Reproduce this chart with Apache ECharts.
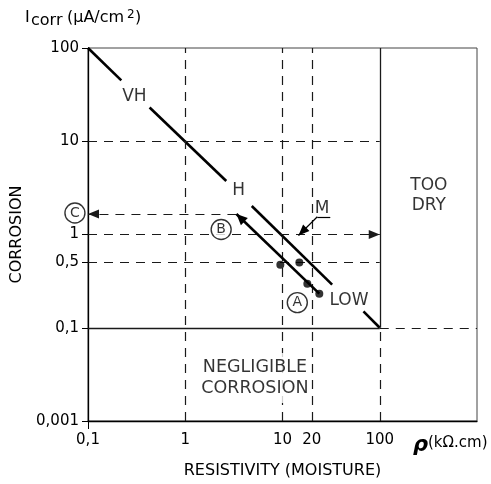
<!DOCTYPE html>
<html>
<head>
<meta charset="utf-8">
<script src="https://cdn.jsdelivr.net/npm/echarts@6/dist/echarts.min.js"></script>
<style>
  html, body { margin: 0; padding: 0; background: #fff; }
  #chart { width: 491px; height: 484px; }
</style>
</head>
<body>
<div id="chart"></div>
<script>
// Axis ticks (log-log corrosion rate vs. resistivity)
const xTicks = [0.1, 1, 10, 20, 100];
const xTickText = ['0,1', '1', '10', '20', '100'];
const yTicks = [0.01, 0.1, 0.5, 1, 10, 100];
const yTickText = ['0,001', '0,1', '0,5', '1', '10', '100'];

// Corrosion-level boundary line, drawn in pieces around its labels
const vhSegment = [[0.1, 100], [0.22, 45]];
const hSegment = [[0.43, 23], [2.64, 3.75]];
const mSegment = [[4.83, 2.02], [32.4, 0.29]];
const lowSegment = [[68, 0.15], [100, 0.1]];

// Measured points (A) and the trend line through them (B)
const measured = [[9.5, 0.475], [14.9, 0.5], [18, 0.297], [23.9, 0.232]];
const trendB = [[23.9, 0.232], [3.36, 1.66]];
const levelC = 1.66;

// Pointer from the "M" label
const mLeader = [[31, 1.55], [22.8, 1.55], [14.6, 0.975]];

// Reference lines [x1, y1, x2, y2]
const dashedGuides = [
  [1, 0.01, 1, 100],
  [10, 0.01, 10, 100],
  [20, 0.01, 20, 100],
  [100, 0.01, 100, 0.1],
  [0.1, 10, 100, 10],
  [0.1, 0.5, 100, 0.5],
  [100, 0.1, 1000, 0.1]
];
const solidGuides = [
  [100, 0.1, 100, 100],
  [0.1, 0.1, 100, 0.1]
];
const dashedArrows = [
  [0.1, 1, 100, 1],
  [3.36, levelC, 0.1, levelC]
];

// Text annotations [x, y, text]
const zoneLabels = [
  [0.30, 30, 'VH'],
  [3.53, 2.98, 'H'],
  [25.6, 1.88, 'M'],
  [48.3, 0.195, 'LOW'],
  [320, 2.64, 'TOO\nDRY']
];
const negligibleLabel = [5.2, 0.029, 'NEGLIGIBLE\nCORROSION'];
const circledLabels = [
  [14.2, 0.186, 'A'],
  [2.34, 1.13, 'B'],
  [0.0734, 1.7, 'C']
];

const FONT = 'DejaVu Sans';
const INK = '#000';
const dashStyle = { color: '#1a1a1a', width: 1.2, type: [9, 7] };
const solidStyle = { color: '#1a1a1a', width: 1.3, type: 'solid' };
// triangle head whose tip sits exactly on the line end
const ARROW = 'path://M0,0L0.01,0L0,0.01Z M0,10L4,20L-4,20Z';

function nearestLabel(value, ticks, texts) {
  let best = 0, bestD = Infinity;
  ticks.forEach((t, i) => {
    const d = Math.abs(Math.log10(value) - Math.log10(t));
    if (d < bestD) { bestD = d; best = i; }
  });
  return texts[best];
}

function seg(s, style) {
  return [
    { coord: [s[0], s[1]], symbol: 'none', lineStyle: style },
    { coord: [s[2], s[3]], symbol: 'none' }
  ];
}
function arrowSeg(s, style, width) {
  return [
    { coord: [s[0], s[1]], symbol: 'none', lineStyle: style },
    { coord: [s[2], s[3]], symbol: ARROW, symbolSize: [width || 9, 22] }
  ];
}

const guideLines = []
  .concat(dashedGuides.map(s => seg(s, dashStyle)))
  .concat(solidGuides.map(s => seg(s, solidStyle)))
  .concat(dashedArrows.map(s => arrowSeg(s, dashStyle, 9)))
  .concat([
    arrowSeg([trendB[0][0], trendB[0][1], trendB[1][0], trendB[1][1]],
             { color: '#000', width: 2.6, type: 'solid' }, 10),
    seg([mLeader[0][0], mLeader[0][1], mLeader[1][0], mLeader[1][1]],
        { color: '#000', width: 1.2, type: 'solid' }),
    arrowSeg([mLeader[1][0], mLeader[1][1], mLeader[2][0], mLeader[2][1]],
             { color: '#000', width: 1.2, type: 'solid' }, 9)
  ]);

function boundary(data) {
  return {
    type: 'line', data: data, symbol: 'none', silent: true,
    lineStyle: { color: '#000', width: 2.6 }, z: 4
  };
}

const chart = echarts.init(document.getElementById('chart'), null, { renderer: 'canvas' });

chart.setOption({
  animation: false,
  backgroundColor: '#fff',
  textStyle: { fontFamily: FONT },
  grid: {
    left: 88, right: 14, top: 48, bottom: 62,
    show: true, borderColor: '#444', borderWidth: 1, backgroundColor: 'transparent'
  },
  xAxis: {
    type: 'log', logBase: 10, min: 0.1, max: 1000,
    name: 'RESISTIVITY (MOISTURE)', nameLocation: 'middle', nameGap: 42,
    nameTextStyle: { fontFamily: FONT, fontSize: 16, color: INK },
    axisLine: { show: true, lineStyle: { color: '#000', width: 1.3 } },
    axisTick: { show: true, customValues: [0.1], length: 8, lineStyle: { color: '#000' } },
    axisLabel: {
      customValues: xTicks, margin: 12, fontSize: 15, fontFamily: FONT, color: INK,
      formatter: v => nearestLabel(v, xTicks, xTickText)
    },
    splitLine: { show: false }, minorTick: { show: false }
  },
  yAxis: {
    type: 'log', logBase: 10, min: 0.01, max: 100,
    name: 'CORROSION', nameLocation: 'middle', nameGap: 57, nameRotate: 90,
    nameTextStyle: { fontFamily: FONT, fontSize: 16, color: INK },
    axisLine: { show: true, lineStyle: { color: '#000', width: 1.3 } },
    axisTick: { show: true, customValues: yTicks, length: 6, lineStyle: { color: '#000' } },
    axisLabel: {
      customValues: yTicks, margin: 9, fontSize: 15, fontFamily: FONT, color: INK,
      formatter: v => nearestLabel(v, yTicks, yTickText)
    },
    splitLine: { show: false }, minorTick: { show: false }
  },
  series: [
    {
      name: 'guides', type: 'scatter', data: [], silent: true,
      markLine: {
        silent: true, animation: false, symbol: ['none', 'none'],
        label: { show: false }, emphasis: { disabled: true },
        data: guideLines
      }
    },
    boundary(vhSegment),
    boundary(hSegment),
    boundary(mSegment),
    boundary(lowSegment),
    {
      name: 'measured', type: 'scatter', data: measured, symbol: 'circle', symbolSize: 8,
      itemStyle: { color: '#000' }, silent: true, z: 5
    },
    {
      name: 'zones', type: 'scatter', silent: true, clip: false, symbolSize: 1,
      itemStyle: { color: 'transparent' },
      data: zoneLabels.map(d => ({ value: [d[0], d[1]], name: d[2] })),
      label: {
        show: true, position: 'inside', formatter: p => p.name,
        fontFamily: FONT, fontSize: 17, color: INK, lineHeight: 20, align: 'center'
      }, z: 6
    },
    {
      name: 'negligible', type: 'scatter', silent: true, symbolSize: 1,
      itemStyle: { color: 'transparent' },
      data: [{ value: [negligibleLabel[0], negligibleLabel[1]], name: negligibleLabel[2] }],
      label: {
        show: true, position: 'inside', formatter: p => p.name,
        fontFamily: FONT, fontSize: 17.5, color: INK, lineHeight: 21, align: 'center',
        backgroundColor: '#fff', padding: [4, 2, 4, 2]
      }, z: 6
    },
    {
      name: 'marks', type: 'scatter', silent: true, clip: false, symbol: 'circle', symbolSize: 20,
      itemStyle: { color: '#fff', borderColor: '#000', borderWidth: 1.4 },
      data: circledLabels.map(d => ({ value: [d[0], d[1]], name: d[2] })),
      label: {
        show: true, position: 'inside', formatter: p => p.name,
        fontFamily: FONT, fontSize: 14, color: INK
      }, z: 6
    }
  ],
  graphic: [
    { type: 'text', left: 25, top: 10, style: { text: 'I', font: '16px "DejaVu Sans"', fill: INK } },
    { type: 'text', left: 31, top: 13, style: { text: 'corr', font: '16px "DejaVu Sans"', fill: INK } },
    { type: 'text', left: 67, top: 10, style: { text: '(µA/cm', font: '16px "DejaVu Sans"', fill: INK } },
    { type: 'text', left: 127, top: 9, style: { text: '2', font: '12px "DejaVu Sans"', fill: INK } },
    { type: 'text', left: 135, top: 10, style: { text: ')', font: '16px "DejaVu Sans"', fill: INK } },
    { type: 'text', left: 413, top: 435, style: { text: 'ρ', font: 'italic bold 21px "DejaVu Sans"', fill: INK } },
    { type: 'text', left: 428, top: 436, style: { text: '(kΩ.cm)', font: '15px "DejaVu Sans"', fill: INK } }
  ]
});
</script>
</body>
</html>
